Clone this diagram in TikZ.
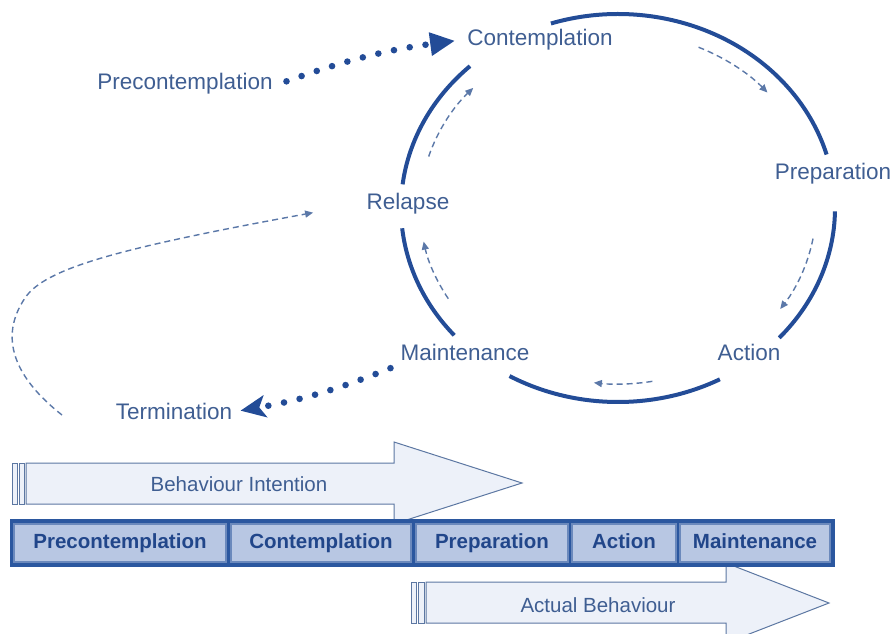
\documentclass[tikz,border=0pt]{standalone}
\usepackage{fontspec}
\setmainfont{Liberation Sans}
\usetikzlibrary{arrows.meta}

\definecolor{ringblue}{HTML}{234C97}
\definecolor{textblue}{HTML}{3F5E92}
\definecolor{dashblue}{HTML}{5B78A8}
\definecolor{framblue}{HTML}{2B579F}
\definecolor{cellfill}{HTML}{B8C7E3}
\definecolor{celltext}{HTML}{21468A}
\definecolor{arrowfill}{HTML}{EDF1F9}
\definecolor{arrowline}{HTML}{5C77A2}

\tikzset{
  stage/.style={font=\fontsize{11.25}{13}\selectfont, text=textblue, inner sep=3pt},
  ring/.style={draw=ringblue, line width=2pt},
  turn/.style={draw=dashblue, line width=.7pt, dash pattern=on 3pt off 2pt, -{Triangle[length=4pt,width=3.5pt]}},
  dots/.style={draw=ringblue, line width=3.3pt, line cap=round, dash pattern=on 0pt off 8pt},
  cell/.style={fill=cellfill, draw=framblue!70!white, line width=.6pt, minimum height=19pt, inner sep=0pt,
    text height=7.6pt, text depth=2.2pt,
    font=\fontsize{10.25}{12}\selectfont\bfseries, text=celltext},
  fatarrow/.style={fill=arrowfill, draw=arrowline, line width=.5pt},
  arrowlabel/.style={font=\fontsize{10.25}{12}\selectfont, text=textblue}
}

\begin{document}
\begin{tikzpicture}[x=.5pt, y=.5pt]
\clip (0,0) rectangle (893,633);

% stages round the cycle
\node[stage] (contem) at (540,593) {Contemplation};
\node[stage] (precon) at (185,549) {Precontemplation};
\node[stage] (prep) at (833,459) {Preparation};
\node[stage] (relapse) at (408,429) {Relapse};
\node[stage] (maint) at (465,281) {Maintenance};
\node[stage] (action) at (749,281) {Action};
\node[stage] (term) at (174,222) {Termination};
\coordinate (loopstart) at (62,218);

% the ring
\foreach \a/\b in {108/16, -1/-42, -62/-120, 221/186, 173/133}
  \draw[ring] (618,425) ++(\a:217 and 194) arc[start angle=\a, end angle=\b, x radius=217, y radius=194];
\foreach \a/\b in {66/41, -10/-35, -80/-97, 211/191, 163/137}
  \draw[turn] (618,425) ++(\a:198 and 176) arc[start angle=\a, end angle=\b, x radius=198, y radius=176];

\draw[dots, shorten <=4pt, shorten >=3pt, -{Triangle[length=12.5pt,width=11pt]}] (precon.east) to[bend left=6] (contem.west);
\draw[dots, shorten <=2pt, shorten >=1pt, -{Stealth[length=12.5pt,width=11pt,inset=3pt]}] (maint.south west) to[bend left=6] (term.east);
\draw[turn, shorten >=24pt] (loopstart) .. controls (15,255) and (-2,295) .. (25,335)
  .. controls (45,365) and (120,385) .. (relapse.west);

% intention / behaviour arrows
\draw[fatarrow] (26,129) -- (394,129) -- (394,109) -- (522,150) -- (394,191) -- (394,170) -- (26,170) -- cycle;
\draw[fatarrow] (12,129) rectangle (17,170);
\draw[fatarrow] (19,129) rectangle (24,170);
\node[arrowlabel] (intent) at (239,149) {Behaviour Intention};

\draw[fatarrow] (426,10) -- (726,10) -- (726,-10) -- (829,30) -- (726,70) -- (726,51) -- (426,51) -- cycle;
\draw[fatarrow] (411,10) rectangle (416,51);
\draw[fatarrow] (418,10) rectangle (424,51);
\node[arrowlabel] (actual) at (598,28) {Actual Behaviour};

% stage bar
\fill[framblue] (10,66) rectangle (835,114);
\node[cell, minimum width=106pt] (bprecon) at (120,90) {Precontemplation};
\node[cell, minimum width=90pt] (bcontem) at (321,90) {Contemplation};
\node[cell, minimum width=76pt] (bprep) at (492,90) {Preparation};
\node[cell, minimum width=52pt] (baction) at (624,90) {Action};
\node[cell, minimum width=75pt] (bmaint) at (755,90) {Maintenance};

\end{tikzpicture}
\end{document}
